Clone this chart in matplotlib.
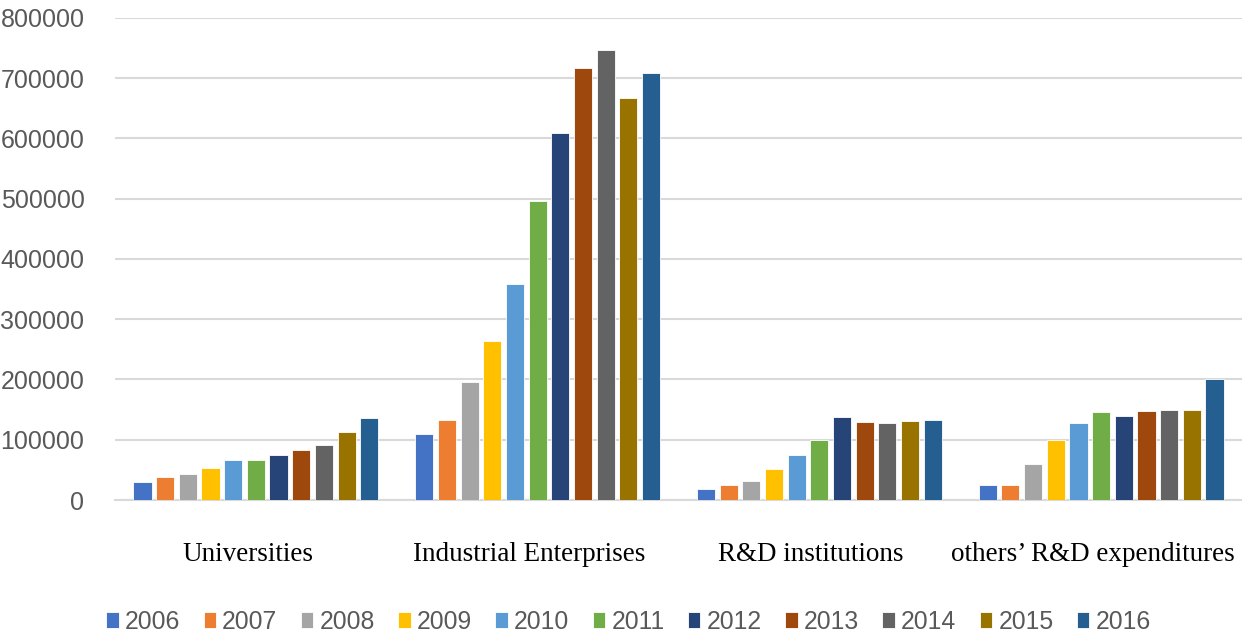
import numpy as np
import matplotlib.pyplot as plt

categories = ["Universities", "Industrial Enterprises", "R&D institutions", "others\u2019 R&D expenditures"]
years = ["2006", "2007", "2008", "2009", "2010", "2011", "2012", "2013", "2014", "2015", "2016"]

# one list per category, one value per year
universities = [29400, 38300, 43300, 53900, 66100, 66100, 74400, 83300, 91700, 112800, 136100]
industrial = [110000, 132100, 195700, 263700, 357700, 495900, 608600, 716400, 747400, 667800, 708100]
rd_institutions = [17800, 24400, 31700, 52200, 74400, 98900, 137800, 129400, 127800, 131100, 132800]
others = [24400, 24400, 60600, 98900, 127800, 146700, 139400, 148300, 150000, 150000, 200000]

colors = ["#4472C4", "#ED7D31", "#A5A5A5", "#FFC000", "#5B9BD5", "#70AD47",
          "#264478", "#9E480E", "#636363", "#997300", "#255E91"]


def main():
    data = np.array([universities, industrial, rd_institutions, others]).T
    fig = plt.figure(figsize=(12.42, 6.37), dpi=100)
    ax = fig.add_axes([0.0926, 0.215, 0.9074, 0.757])

    x = np.arange(len(categories))
    slot = 0.0805
    for i in range(len(years)):
        offs = (i - (len(years) - 1) / 2) * slot
        ax.bar(x + offs, data[i], width=slot * 0.8, color=colors[i],
               edgecolor="white", linewidth=0.6, label=years[i], zorder=3)

    ax.set_xlim(-0.5, 3.5)
    ax.set_ylim(0, 800000)
    ax.set_yticks(np.arange(0, 800001, 100000))
    ax.yaxis.grid(True, color="#D9D9D9", linewidth=1.5, zorder=0)
    ax.set_axisbelow(True)
    for s in ["left", "right", "top"]:
        ax.spines[s].set_visible(False)
    ax.spines["bottom"].set_color("#D9D9D9")
    ax.spines["bottom"].set_linewidth(1.5)
    ax.tick_params(axis="y", length=0, pad=22, labelsize=18, labelcolor="#595959")
    for lab in ax.get_yticklabels():
        lab.set_family("Liberation Sans")
    ax.tick_params(axis="x", length=0, pad=30)
    ax.set_xticks(x - 0.03)
    ax.set_xticklabels(categories, fontsize=19.5, family="Liberation Serif", color="black")

    fig.legend(loc="center", bbox_to_anchor=(0.506, 0.024), ncol=11, frameon=False,
               prop={"family": "Liberation Sans", "size": 17.8},
               handlelength=0.5, handleheight=0.65, handletextpad=0.25,
               columnspacing=0.95, labelcolor="#595959")
    fig.savefig("out.png", dpi=100)


if __name__ == "__main__":
    main()
